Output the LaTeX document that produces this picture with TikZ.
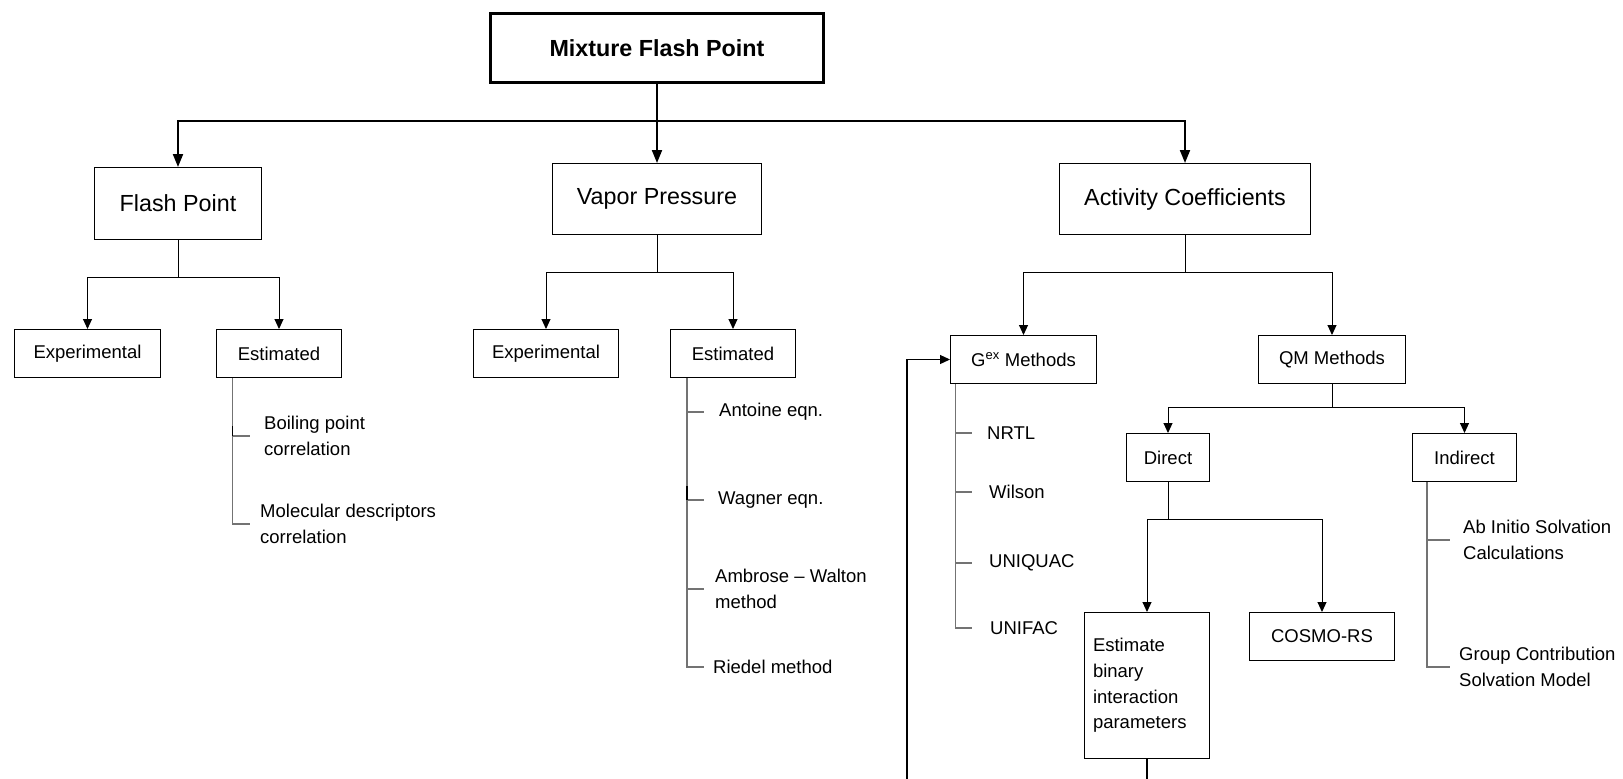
\documentclass[tikz,border=0pt]{standalone}
\usepackage{fontspec}
\setmainfont{Liberation Sans}
\usetikzlibrary{arrows.meta,calc}
\begin{document}
\begin{tikzpicture}[x=1pt,y=-1pt,
  titlebox/.style={draw=black,line width=2.7pt,inner sep=0pt,font=\bfseries\fontsize{23.3}{28}\selectfont},
  bigbox/.style={draw=black,line width=1.2pt,inner sep=0pt,font=\fontsize{23.3}{28}\selectfont},
  box/.style={draw=black,line width=1.2pt,inner sep=0pt,minimum height=47.8pt,font=\fontsize{18.5}{25.7}\selectfont},
  lbl/.style={anchor=west,inner sep=0pt,align=left,font=\fontsize{18.5}{25.7}\selectfont},
  bigarr/.style={line width=2pt,-{Triangle[length=13pt,width=10pt]}},
  arr/.style={line width=1pt,-{Triangle[length=10pt,width=9pt]}},
  plain/.style={line width=1.2pt},
  spine/.style={line width=1.2pt,draw=black!55},
  notch/.style={line width=1.2pt,draw=black},
]
\useasboundingbox (0,0) rectangle (1623,779);

% main boxes
\node[titlebox,minimum width=333.3pt,minimum height=69.3pt] (top) at (657,48) {Mixture Flash Point};
\node[bigbox,minimum width=166.8pt,minimum height=71.8pt] (flash) at (178,203.5) {Flash Point};
\node[bigbox,minimum width=208.8pt,minimum height=70.8pt] (vap) at (657,199) {Vapor Pressure};
\node[bigbox,minimum width=250.8pt,minimum height=70.8pt] (act) at (1185,199) {Activity Coefficients};

% second level
\node[box,minimum width=145.8pt] (exp1) at (87.5,353.5) {Experimental};
\node[box,minimum width=124.8pt] (est1) at (279,353.5) {Estimated};
\node[box,minimum width=144.8pt] (exp2) at (546,353.5) {Experimental};
\node[box,minimum width=124.8pt] (est2) at (733,353.5) {Estimated};
\node[box,minimum width=145.8pt] (gex) at (1023.5,359.5) {G\textsuperscript{ex} Methods};
\node[box,minimum width=146.8pt] (qm) at (1332,359.5) {QM Methods};
\node[box,minimum width=82.8pt] (direct) at (1168,457.5) {Direct};
\node[box,minimum width=103.8pt] (indirect) at (1464.5,457.5) {Indirect};
\node[box,minimum width=124.8pt,minimum height=145.8pt,text width=108pt,align=left] (estbin) at (1147,685.5) {Estimate\\binary\\interaction\\parameters};
\node[box,minimum width=144.8pt] (cosmo) at (1322,636.5) {COSMO-RS};

% list labels
\node[lbl] (bp) at (264,436) {Boiling point\\correlation};
\node[lbl] (md) at (260,524) {Molecular descriptors\\correlation};
\node[lbl] (ant) at (719,412) {Antoine eqn.};
\node[lbl] (wag) at (718,500) {Wagner eqn.};
\node[lbl] (amb) at (715,589) {Ambrose – Walton\\method};
\node[lbl] (rie) at (713,667) {Riedel method};
\node[lbl] (nrtl) at (987,433) {NRTL};
\node[lbl] (wil) at (989,492) {Wilson};
\node[lbl] (uniq) at (989,563) {UNIQUAC};
\node[lbl] (unif) at (990,628) {UNIFAC};
\node[lbl] (ab) at (1463,540) {Ab Initio Solvation\\Calculations};
\node[lbl] (gc) at (1459,667) {Group Contribution\\Solvation Model};

% top level connectors
\coordinate (bus) at (657,121);
\draw[bigarr] (top.south) -- (vap.north);
\draw[bigarr] (top.south) -- (bus) -| (flash.north);
\draw[bigarr] (top.south) -- (bus) -| (act.north);

% second level connectors
\draw[arr] (flash.south) -- ++(0,37) -| (exp1.north);
\draw[arr] (flash.south) -- ++(0,37) -| (est1.north);
\draw[arr] (vap.south) -- ++(0,37) -| (exp2.north);
\draw[arr] (vap.south) -- ++(0,37) -| (est2.north);
\draw[arr] (act.south) -- ++(0,37) -| (gex.north);
\draw[arr] (act.south) -- ++(0,37) -| (qm.north);
\draw[arr] (qm.south) -- ++(0,23) -| (direct.north);
\draw[arr] (qm.south) -- ++(0,23) -| (indirect.north);
\draw[arr] (direct.south) -- ++(0,37) -| (estbin.north);
\draw[arr] (direct.south) -- ++(0,37) -| (cosmo.north);

% feedback and outgoing lines
\coordinate (fb) at (907,779);
\coordinate (eb) at (1147,779);
\draw[arr,line width=1.2pt] (fb) |- (gex.west);
\draw[plain] (estbin.south) -- (eb);

% list spines
\coordinate (s1) at ([xshift=-46.5pt]est1.south);
\draw[spine] (s1) -- (s1 |- md.west) -- ++(17.5,0);
\draw[spine] (s1 |- bp.west) -- ++(17.5,0);
\draw[notch] (s1 |- bp.west) -- ++(0,-10);

\coordinate (s2) at ([xshift=-46pt]est2.south);
\draw[spine] (s2) -- (s2 |- rie.west) -- ++(17,0);
\draw[spine] (s2 |- ant.west) -- ++(17,0);
\draw[spine] (s2 |- wag.west) -- ++(17,0);
\draw[spine] (s2 |- amb.west) -- ++(17,0);
\draw[notch] (s2 |- wag.west) -- ++(0,-14);

\coordinate (s3) at ([xshift=-68pt]gex.south);
\draw[spine] (s3) -- (s3 |- unif.west) -- ++(16.5,0);
\draw[spine] (s3 |- nrtl.west) -- ++(16.5,0);
\draw[spine] (s3 |- wil.west) -- ++(16.5,0);
\draw[spine] (s3 |- uniq.west) -- ++(16.5,0);

\coordinate (s4) at ([xshift=-37.5pt]indirect.south);
\draw[spine] (s4) -- (s4 |- gc.west) -- ++(23,0);
\draw[spine] (s4 |- ab.west) -- ++(23,0);
\end{tikzpicture}
\end{document}
